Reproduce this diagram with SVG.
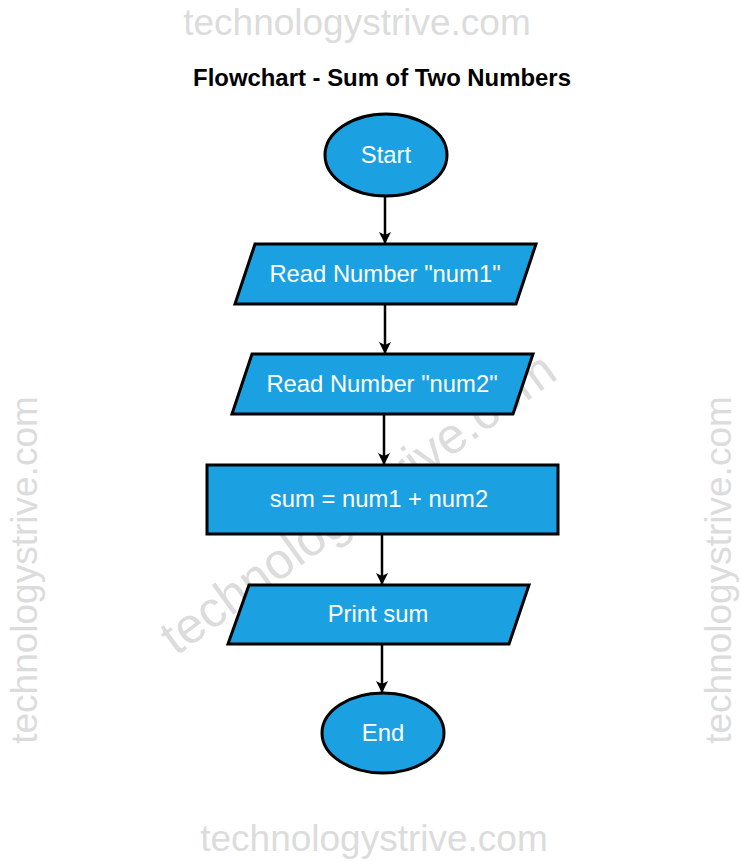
<svg xmlns="http://www.w3.org/2000/svg" width="741" height="862" viewBox="0 0 741 862">
<style>
.wm{font-family:"Liberation Sans",Arial,sans-serif;font-size:37px;fill:#dcdcdc;text-anchor:middle}
.shape{fill:#1ba1e2;stroke:#000;stroke-width:3}
.lbl{font-family:"Liberation Sans",Arial,sans-serif;font-size:23.8px;fill:#fff;text-anchor:middle;dominant-baseline:central}
.edge{stroke:#000;stroke-width:2.5;fill:none;marker-end:url(#arr)}
</style>
<defs>
<marker id="arr" viewBox="0 0 12 12" refX="11" refY="6" markerWidth="12" markerHeight="12" markerUnits="userSpaceOnUse" orient="auto">
<path d="M0,0 L12,6 L0,12 L3,6 Z" fill="#000"/>
</marker>
</defs>
<rect width="741" height="862" fill="#fff"/>
<g id="watermarks">
<text class="wm" x="357" y="35">technologystrive.com</text>
<text class="wm" x="374" y="851">technologystrive.com</text>
<text class="wm" transform="translate(37,570) rotate(-90)">technologystrive.com</text>
<text class="wm" transform="translate(731,570) rotate(-90)">technologystrive.com</text>
<text class="wm" style="font-size:50.5px" transform="translate(368,517) rotate(-36)">technologystrive.com</text>
</g>
<text id="title" x="382" y="86" style="font-family:'Liberation Sans',Arial,sans-serif;font-size:23.9px;font-weight:bold;fill:#000" text-anchor="middle">Flowchart - Sum of Two Numbers</text>
<g id="connectors">
<line class="edge" x1="385" y1="196" x2="385" y2="243"/>
<line class="edge" x1="385" y1="304" x2="385" y2="353"/>
<line class="edge" x1="384" y1="414" x2="384" y2="464"/>
<line class="edge" x1="382" y1="535" x2="382" y2="584"/>
<line class="edge" x1="382" y1="645" x2="382" y2="692"/>
</g>
<g id="start">
<ellipse class="shape" cx="386" cy="155" rx="61" ry="41"/>
<text class="lbl" x="386" y="154">Start</text>
</g>
<g id="read1">
<polygon class="shape" points="255,244 536,244 516,304 235,304"/>
<text class="lbl" x="385" y="273">Read Number "num1"</text>
</g>
<g id="read2">
<polygon class="shape" points="252,354 533,354 513,414 232,414"/>
<text class="lbl" x="382" y="383">Read Number "num2"</text>
</g>
<g id="calc">
<rect class="shape" x="207" y="465" width="351" height="69"/>
<text class="lbl" x="379" y="498">sum = num1 + num2</text>
</g>
<g id="print">
<polygon class="shape" points="249,585 529,585 509,644 228,644"/>
<text class="lbl" x="378" y="613">Print sum</text>
</g>
<g id="end">
<ellipse class="shape" cx="383" cy="733" rx="61" ry="40"/>
<text class="lbl" x="383" y="732">End</text>
</g>
</svg>
